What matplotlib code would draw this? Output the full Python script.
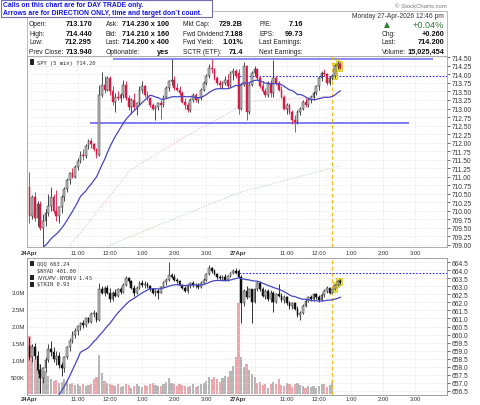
import numpy as np
import pandas as pd
import matplotlib
matplotlib.use("Agg")
import matplotlib.pyplot as plt
from matplotlib.patches import Rectangle

plt.rcParams["font.family"] = ["Liberation Sans", "DejaVu Sans"]

W, H = 480, 406

# SPY 5 min bars: 24-Apr (bars 0-77) then 27-Apr (bars 78-116)
spy_open = [
    710.70, 709.85, 710.40, 709.80, 710.20, 709.50, 709.70, 709.95, 710.15, 710.40,
    710.00, 709.85, 710.10, 710.40, 710.65, 710.90, 711.10, 711.00, 711.30, 711.45,
    711.65, 711.60, 711.90, 712.05, 711.95, 711.80, 711.65, 713.40, 713.70, 713.55,
    713.90, 713.50, 713.20, 713.35, 713.30, 713.40, 713.70, 713.30, 713.05, 713.25,
    713.05, 713.15, 713.55, 713.65, 713.40, 713.30, 713.10, 713.00, 713.05, 713.15,
    713.10, 713.35, 713.60, 713.80, 713.85, 713.60, 713.55, 713.45, 713.20, 713.10,
    712.95, 713.25, 713.40, 713.25, 713.30, 713.55, 713.75, 713.95, 714.20, 714.15,
    713.90, 713.75, 713.70, 713.75, 713.85, 713.65, 714.05, 714.10,
    714.05, 713.00, 713.70, 714.25, 712.90, 713.70, 714.05, 714.15, 713.90, 713.65,
    713.50, 713.40, 713.75, 713.45, 713.90, 713.75, 713.55, 713.35, 713.00, 713.10,
    712.90, 712.65, 712.60, 712.90, 713.00, 713.20, 713.10, 713.25, 713.35, 713.45,
    713.65, 713.90, 714.05, 714.00, 713.75, 713.90, 713.95, 714.25, 714.30,
]
spy_high = [
    711.13, 710.45, 710.55, 710.30, 710.30, 709.90, 710.05, 710.50, 710.70, 710.50,
    710.60, 710.15, 710.45, 710.70, 710.95, 711.15, 711.25, 711.35, 711.55, 711.75,
    711.80, 711.95, 712.10, 712.15, 712.00, 711.85, 713.70, 714.06, 713.95, 713.95,
    713.95, 713.65, 713.45, 713.50, 713.45, 713.85, 713.80, 713.40, 713.30, 713.45,
    713.20, 713.65, 713.80, 713.70, 713.50, 713.35, 713.15, 713.10, 713.20, 713.25,
    713.40, 713.65, 713.85, 714.44, 713.95, 713.75, 713.65, 713.50, 713.30, 713.15,
    713.30, 713.45, 713.45, 713.35, 713.60, 713.80, 714.00, 714.30, 714.44, 714.20,
    713.95, 713.85, 713.80, 713.95, 714.00, 714.10, 714.20, 714.15,
    714.15, 713.75, 714.35, 714.28, 713.75, 714.10, 714.25, 714.20, 713.95, 713.80,
    713.60, 713.80, 713.85, 714.42, 713.95, 713.80, 713.65, 713.40, 713.15, 713.15,
    712.95, 712.80, 712.95, 713.05, 713.25, 713.30, 713.30, 713.40, 713.50, 713.70,
    713.95, 714.10, 714.15, 714.05, 713.95, 714.00, 714.30, 714.40, 714.35,
]
spy_low = [
    709.65, 709.75, 709.70, 709.55, 709.45, 708.95, 709.55, 709.85, 710.00, 709.95,
    709.70, 709.65, 709.95, 710.30, 710.55, 710.80, 710.95, 710.95, 711.20, 711.40,
    711.50, 711.55, 711.80, 711.85, 711.75, 711.55, 711.60, 713.35, 713.45, 713.50,
    713.40, 713.10, 712.90, 713.25, 713.20, 713.30, 713.25, 712.95, 712.85, 712.95,
    712.80, 713.10, 713.45, 713.35, 713.25, 713.05, 712.95, 712.65, 712.95, 712.70,
    713.05, 713.30, 713.50, 713.70, 713.55, 713.50, 713.40, 713.15, 713.00, 712.90,
    712.90, 713.20, 713.20, 713.15, 713.25, 713.50, 713.70, 713.90, 714.05, 713.85,
    713.70, 713.60, 713.60, 713.70, 713.60, 713.60, 713.85, 713.90,
    712.85, 712.95, 713.65, 712.65, 712.85, 713.65, 713.95, 713.85, 713.60, 713.45,
    713.35, 713.35, 713.35, 713.35, 713.70, 713.50, 713.30, 712.95, 712.85, 712.85,
    712.55, 712.30, 712.55, 712.80, 712.95, 713.05, 713.05, 713.15, 713.25, 713.40,
    713.55, 713.80, 713.95, 713.70, 713.70, 713.85, 713.90, 714.15, 714.15,
]
spy_close = [
    709.85, 710.40, 709.80, 710.20, 709.50, 709.70, 709.95, 710.15, 710.40, 710.00,
    709.85, 710.10, 710.40, 710.65, 710.90, 711.10, 711.00, 711.30, 711.45, 711.65,
    711.60, 711.90, 712.05, 711.95, 711.80, 711.65, 713.40, 713.70, 713.55, 713.90,
    713.50, 713.20, 713.35, 713.30, 713.40, 713.70, 713.30, 713.05, 713.25, 713.05,
    713.15, 713.55, 713.65, 713.40, 713.30, 713.10, 713.00, 713.05, 713.15, 713.10,
    713.35, 713.60, 713.80, 713.85, 713.60, 713.55, 713.45, 713.20, 713.10, 712.95,
    713.25, 713.40, 713.25, 713.30, 713.55, 713.75, 713.95, 714.20, 714.15, 713.90,
    713.75, 713.70, 713.75, 713.85, 713.65, 714.05, 714.10, 713.94,
    713.00, 713.70, 714.25, 712.90, 713.70, 714.05, 714.15, 713.90, 713.65, 713.50,
    713.40, 713.75, 713.45, 713.90, 713.75, 713.55, 713.35, 713.00, 713.10, 712.90,
    712.65, 712.60, 712.90, 713.00, 713.20, 713.10, 713.25, 713.35, 713.45, 713.65,
    713.90, 714.05, 714.00, 713.75, 713.90, 713.95, 714.25, 714.30, 714.20,
]
# last 19 closes of 23-Apr, only used to seed the 20 bar average
spy_prior_close = [708.30, 708.45, 708.35, 708.50, 708.40, 708.55, 708.45, 708.40, 708.50, 708.60,
                   708.45, 708.50, 708.55, 708.40, 708.50, 708.45, 708.55, 708.60, 708.50]

# QQQ 5 min bars, same slots
qqq_open = [
    659.30, 658.60, 659.20, 658.70, 657.80, 657.30, 657.90, 658.40, 659.10, 658.90,
    658.50, 658.70, 658.10, 657.90, 658.60, 659.20, 659.60, 660.00, 660.20, 660.50,
    660.70, 660.60, 661.00, 660.80, 661.30, 661.35, 660.90, 662.80, 662.60, 662.90,
    662.60, 662.20, 662.60, 662.40, 662.80, 662.65, 663.10, 663.50, 663.30, 662.90,
    662.60, 662.90, 663.20, 663.05, 663.15, 663.00, 662.80, 662.55, 662.70, 662.60,
    662.95, 663.25, 663.40, 663.70, 663.60, 663.40, 663.30, 663.10, 662.90, 662.70,
    663.00, 663.20, 663.05, 663.10, 662.95, 663.20, 663.40, 663.75, 664.10, 663.95,
    663.75, 663.55, 663.50, 663.60, 663.40, 663.65, 663.85, 663.95,
    663.95, 663.60, 661.95, 662.70, 662.35, 662.80, 662.00, 662.80, 663.20, 662.80,
    662.40, 662.70, 662.20, 662.60, 662.05, 662.50, 662.40, 662.15, 662.35, 661.95,
    661.75, 661.95, 661.60, 661.20, 661.35, 661.80, 662.10, 662.30, 662.20, 662.50,
    662.30, 662.15, 662.45, 662.70, 662.90, 662.60, 662.80, 663.05, 663.30,
]
qqq_high = [
    659.85, 659.40, 659.50, 659.00, 658.20, 658.00, 658.60, 659.40, 659.60, 659.20,
    659.00, 658.90, 658.30, 658.70, 659.30, 659.80, 660.20, 660.40, 660.60, 660.80,
    660.90, 661.10, 661.10, 661.40, 661.50, 661.40, 663.20, 663.00, 663.00, 663.10,
    662.90, 662.70, 662.80, 662.90, 662.95, 663.20, 663.65, 663.60, 663.40, 663.10,
    663.00, 663.30, 663.40, 663.30, 663.25, 663.10, 662.90, 662.80, 662.85, 663.00,
    663.30, 663.50, 664.50, 663.85, 663.75, 663.50, 663.40, 663.15, 663.00, 663.05,
    663.25, 663.30, 663.20, 663.20, 663.30, 663.50, 663.80, 664.30, 664.20, 664.05,
    663.85, 663.70, 663.70, 663.75, 663.70, 663.90, 664.05, 664.10,
    664.05, 663.70, 662.80, 663.00, 662.90, 662.85, 662.90, 663.35, 663.30, 662.95,
    662.80, 662.85, 662.75, 662.70, 662.60, 663.15, 662.55, 662.45, 662.40, 662.10,
    662.05, 662.00, 661.80, 661.45, 661.90, 662.20, 662.40, 662.45, 662.60, 662.55,
    662.45, 662.55, 662.80, 663.00, 662.95, 662.85, 663.15, 663.40, 663.45,
]
qqq_low = [
    658.40, 658.30, 658.50, 657.60, 656.40, 657.00, 657.70, 658.30, 658.70, 658.30,
    658.10, 657.90, 657.40, 657.70, 658.50, 659.00, 659.50, 659.80, 660.00, 660.30,
    660.40, 660.50, 660.70, 660.70, 661.10, 660.80, 660.85, 662.50, 662.40, 662.50,
    662.00, 662.10, 662.30, 662.30, 662.50, 662.60, 663.00, 663.20, 662.80, 662.40,
    662.50, 662.80, 662.95, 662.90, 662.90, 662.70, 662.50, 662.40, 662.20, 662.55,
    662.90, 663.10, 663.30, 663.50, 663.35, 663.20, 663.05, 662.85, 662.65, 662.60,
    662.90, 662.95, 662.90, 662.85, 662.90, 663.15, 663.35, 663.70, 663.85, 663.70,
    663.45, 663.40, 663.35, 663.30, 663.35, 663.55, 663.75, 663.75,
    663.50, 660.70, 661.80, 662.20, 662.30, 660.70, 661.95, 662.70, 662.70, 662.30,
    662.20, 662.10, 662.00, 661.40, 661.95, 662.30, 662.05, 661.95, 661.85, 661.60,
    661.60, 661.50, 661.10, 660.90, 661.30, 661.70, 662.00, 662.10, 662.10, 662.20,
    662.05, 662.10, 662.35, 662.60, 662.50, 662.55, 662.75, 663.00, 663.15,
]
qqq_close = [
    658.60, 659.20, 658.70, 657.80, 657.30, 657.90, 658.40, 659.10, 658.90, 658.50,
    658.70, 658.10, 657.90, 658.60, 659.20, 659.60, 660.00, 660.20, 660.50, 660.70,
    660.60, 661.00, 660.80, 661.30, 661.35, 660.90, 662.80, 662.60, 662.90, 662.60,
    662.20, 662.60, 662.40, 662.80, 662.65, 663.10, 663.50, 663.30, 662.90, 662.60,
    662.90, 663.20, 663.05, 663.15, 663.00, 662.80, 662.55, 662.70, 662.60, 662.95,
    663.25, 663.40, 663.70, 663.60, 663.40, 663.30, 663.10, 662.90, 662.70, 663.00,
    663.20, 663.05, 663.10, 662.95, 663.20, 663.40, 663.75, 664.10, 663.95, 663.75,
    663.55, 663.50, 663.60, 663.40, 663.65, 663.85, 663.95, 663.82,
    663.60, 661.95, 662.70, 662.35, 662.80, 662.00, 662.80, 663.20, 662.80, 662.40,
    662.70, 662.20, 662.60, 662.05, 662.50, 662.40, 662.15, 662.35, 661.95, 661.75,
    661.95, 661.60, 661.20, 661.35, 661.80, 662.10, 662.30, 662.20, 662.50, 662.30,
    662.15, 662.45, 662.70, 662.90, 662.60, 662.80, 663.05, 663.30, 663.24,
]
qqq_prior_close = [652.40, 652.60, 652.50, 652.80, 652.70, 652.90, 652.60, 652.80, 653.00, 652.70,
                   652.90, 652.80, 653.10, 652.90, 653.00, 652.80, 653.10, 653.20, 653.00]

# volume in millions, up to the call line
volume_m = [
    1.73, 1.45, 1.05, 0.75, 0.90, 0.60, 0.70, 0.55, 0.45, 0.40,
    0.42, 0.35, 0.38, 0.45, 0.40, 0.30, 0.35, 0.28, 0.30, 0.26,
    0.30, 0.25, 0.28, 0.32, 0.45, 0.50, 1.17, 0.62, 0.40, 0.35,
    0.30, 0.28, 0.25, 0.30, 0.22, 0.26, 0.32, 0.28, 0.20, 0.24,
    0.30, 0.26, 0.22, 0.28, 0.25, 0.30, 0.35, 0.28, 0.24, 0.26,
    0.30, 0.38, 0.48, 0.35, 0.30, 0.26, 0.32, 0.28, 0.24, 0.22,
    0.25, 0.30, 0.22, 0.26, 0.30, 0.35, 0.40, 0.50, 0.45, 0.52,
    0.45, 0.38, 0.48, 0.55, 0.52, 0.70, 0.85, 1.10,
    2.68, 1.10, 0.80, 0.90, 0.72, 0.60, 0.50, 0.33, 0.38, 0.28,
    0.32, 0.20, 0.30, 0.36, 0.30, 0.45, 0.28, 0.25, 0.35, 0.30,
    0.22, 0.30, 0.33, 0.28, 0.25, 0.20, 0.26, 0.22, 0.24, 0.18,
    0.25, 0.30, 0.32, 0.22, 0.28, 0.36,
]

# longer averages at a few bars
spy_ma_mid_x = [15, 37.5, 55.5, 76, 79, 116]
spy_ma_mid_y = [708.97, 711.18, 712.06, 712.94, 713.19, 713.38]
spy_ma_long_x = [29, 38.5, 77, 79, 116]
spy_ma_long_y = [708.95, 709.27, 710.50, 710.55, 711.32]

resist_level, resist_span = 714.45, (31, 150.5)
support_level, support_span = 712.58, (22.5, 141.5)
spy_prev_close = 713.94
qqq_prev_close = 663.82
call_bar = 113
highlight_bars = [114, 115, 116]

tick_pos = [0, 18, 30, 42, 54, 66, 78, 96, 108, 120, 132, 144]
tick_lab = ["24Apr", "11:00", "12:00", "1:00", "2:00", "3:00",
            "27Apr", "11:00", "12:00", "1:00", "2:00", "3:00"]
grid_pos = [6, 18, 30, 42, 54, 66, 78, 84, 96, 108, 120, 132, 144]

hdr_labels = [["Open:", "High:", "Low:", "Prev Close:"],
              ["Ask:", "Bid:", "Last:", "Optionable:"],
              ["Mkt Cap:", "Fwd Dividend:", "Fwd Yield:", "SCTR (ETF):"],
              ["P/E:", "EPS:", "Last Earnings:", "Next Earnings:"]]
hdr_values = [["713.170", "714.440", "712.295", "713.940"],
              ["714.230 x 100", "714.210 x 160", "714.200 x 400", "yes"],
              ["729.2B", "7.188", "1.01%", "71.4"],
              ["7.16", "99.73", "", ""]]
quote_labels = ["Chg:", "Last:", "Volume:"]
quote_values = ["+0.260", "714.200", "15,025,454"]

XMIN, XMAX = -0.93, 155.8
GRID = dict(color="#d9d9d9", lw=0.5, ls=(0, (1, 1.5)))


def fy(y):
    return 1 - y / H


def candles(ax, o, h, l, c, up_fc, up_ec, dn_fc, dn_ec, min_body):
    o, h, l, c = map(np.asarray, (o, h, l, c))
    x = np.arange(len(c))
    up = c >= o
    ec = np.where(up, up_ec, dn_ec)
    fc = np.where(up, up_fc, dn_fc)
    ax.vlines(x, l, h, colors=ec, linewidth=0.6, zorder=3)
    ax.bar(x, np.maximum(np.abs(c - o), min_body), bottom=np.minimum(o, c), width=0.64,
           color=fc, edgecolor=ec, linewidth=0.35, zorder=3.1)


def highlight(ax, h, l, pad):
    hb = np.array(highlight_bars)
    hh = np.asarray(h)[hb]
    ll = np.asarray(l)[hb]
    ax.bar(hb, hh - ll + 2 * pad, bottom=ll - pad, width=1.25, color="#f3e53c",
           edgecolor="#c9b400", linewidth=0.4, zorder=2.8)


def style_axis(ax):
    for s in ax.spines.values():
        s.set_color("#a0a0a0")
        s.set_linewidth(0.6)
    ax.set_xlim(XMIN, XMAX)
    for g in grid_pos:
        ax.axvline(g, zorder=0.5, **GRID)
    ax.set_xticks(tick_pos)
    ax.set_xticklabels(tick_lab)
    ax.tick_params(axis="x", length=0, labelsize=4.2, colors="#333333")
    for lab in ax.get_xticklabels():
        if "Apr" in lab.get_text():
            lab.set_fontweight("bold")


fig = plt.figure(figsize=(W / 100, H / 100), dpi=100)
fig.patch.set_facecolor("white")

# ---------------- top panel: SPY ----------------
ax1 = fig.add_axes([27 / W, fy(248), 420 / W, 191 / H])
style_axis(ax1)
ax1.tick_params(axis="x", pad=2)
ax1.set_ylim(708.94, 714.54)
ax1.yaxis.tick_right()
ax1.set_yticks(np.arange(709.0, 714.51, 0.25))
ax1.yaxis.set_major_formatter(matplotlib.ticker.FormatStrFormatter("%.2f"))
ax1.tick_params(axis="y", length=2, width=0.5, pad=1.5, labelsize=4.8, colors="#333333")
ax1.grid(axis="y", **GRID)
ax1.set_axisbelow(True)

xb = np.arange(len(spy_close))
spy_ma20 = pd.Series(spy_prior_close + spy_close).rolling(20).mean().to_numpy()[len(spy_prior_close):]
ax1.plot(spy_ma_long_x, spy_ma_long_y, color="#b9c9b9", lw=0.7, ls=(0, (1, 1.5)), zorder=1.5)
ax1.plot(spy_ma_mid_x, spy_ma_mid_y, color="#efb3bd", lw=0.7, ls=(0, (1, 1.5)), zorder=1.5)
ax1.hlines(resist_level, *resist_span, colors="#6a6af5", lw=1.1, zorder=2)
ax1.hlines(support_level, *support_span, colors="#5a5af0", lw=1.1, zorder=2)
ax1.hlines(spy_prev_close, 78, XMAX, colors="#2b2bff", lw=0.8, ls=(0, (1.5, 1.5)), zorder=2)
ax1.axvline(call_bar, color="#f2bd1d", lw=0.9, ls=(0, (3, 2)), zorder=2.5)
highlight(ax1, spy_high, spy_low, 0.04)
candles(ax1, spy_open, spy_high, spy_low, spy_close,
        "#c2c2c2", "#2a2a2a", "#d81b46", "#d81b46", 0.012)
ax1.plot(xb, spy_ma20, color="#4646c3", lw=0.9, zorder=4)

# ---------------- lower panel: volume + QQQ ----------------
ax2 = fig.add_axes([27 / W, fy(396), 420 / W, 137 / H])
style_axis(ax2)
ax2.tick_params(axis="x", pad=1)
ax2.set_ylim(-0.015, 4.01)
ax2.set_yticks([0.5, 1.0, 1.5, 2.0, 2.5, 3.0])
ax2.set_yticklabels(["500K", "1.0M", "1.5M", "2.0M", "2.5M", "3.0M"])
ax2.tick_params(axis="y", length=0, pad=1.5, labelsize=4.3, colors="#333333")
vb = np.arange(len(volume_m))
vcol = np.where(np.asarray(spy_close[:len(volume_m)]) < np.asarray(spy_open[:len(volume_m)]),
                "#eba7ad", "#b5b5b5")
ax2.bar(vb, volume_m, width=0.8, color=vcol, zorder=1)
ax2.axvline(call_bar, color="#f2bd1d", lw=0.9, ls=(0, (3, 2)), zorder=2.5)

ax3 = ax2.twinx()
ax3.set_ylim(656.25, 664.75)
ax3.set_yticks(np.arange(656.5, 664.51, 0.5))
ax3.yaxis.set_major_formatter(matplotlib.ticker.FormatStrFormatter("%.1f"))
ax3.tick_params(axis="y", length=2, width=0.5, pad=1.5, labelsize=4.8, colors="#333333")
for s in ax3.spines.values():
    s.set_color("#a0a0a0")
    s.set_linewidth(0.6)
ax3.grid(axis="y", **GRID)
ax3.hlines(qqq_prev_close, 78, XMAX, colors="#2b2bff", lw=0.8, ls=(0, (1.5, 1.5)), zorder=2)
qqq_ma20 = pd.Series(qqq_prior_close + qqq_close).rolling(20).mean().to_numpy()[len(qqq_prior_close):]
highlight(ax3, qqq_high, qqq_low, 0.08)
candles(ax3, qqq_open, qqq_high, qqq_low, qqq_close,
        "#c2c2c2", "#2a2a2a", "#111111", "#111111", 0.025)
ax3.plot(np.arange(len(qqq_close)), qqq_ma20, color="#4646c3", lw=0.9, zorder=4)
ax3.set_xlim(XMIN, XMAX)

# ---------------- panel legends ----------------
fig.add_artist(Rectangle((29.5 / W, fy(66)), 4 / W, 6 / H, transform=fig.transFigure,
                         fc="#222222", ec="none"))
fig.text(37 / W, fy(63), "SPY (5 min) 714.20", family="DejaVu Sans Mono", fontsize=4.0,
         va="center", color="#333333")
leg_y = [264, 271, 278, 285]
leg_txt = ["QQQ 663.24", "$NYAD 401.00", "$NYUPV:$NYDNV 1.45", "$TRIN 0.93"]
for y, t in zip(leg_y, leg_txt):
    if t.startswith("$NYAD"):
        fig.add_artist(Rectangle((29.5 / W, fy(y + 0.4)), 4 / W, 0.9 / H,
                                 transform=fig.transFigure, fc="#222222", ec="none"))
    else:
        fig.add_artist(Rectangle((29.5 / W, fy(y + 2.5)), 4 / W, 5 / H,
                                 transform=fig.transFigure, fc="#222222", ec="none"))
    fig.text(37 / W, fy(y), t, family="DejaVu Sans Mono", fontsize=3.9, va="center",
             color="#333333")

# ---------------- header ----------------
fig.add_artist(Rectangle((27 / W, fy(57)), 420 / W, 45 / H, transform=fig.transFigure,
                         fill=False, ec="#b0b0b0", lw=0.6))
row_y = [24, 34, 43, 52]
lab_x = [29, 106, 183, 259]
val_x = [92, 169, 243, 303]
for ci in range(4):
    for ri in range(4):
        fig.text(lab_x[ci] / W, fy(row_y[ri]), hdr_labels[ci][ri], fontsize=4.8,
                 va="center", color="#222222")
        fig.text(val_x[ci] / W, fy(row_y[ri]), hdr_values[ci][ri], fontsize=5.3,
                 fontweight="bold", va="center", ha="right", color="#111111")
for ri, (lab, val) in enumerate(zip(quote_labels, quote_values)):
    fig.text(382 / W, fy(row_y[ri + 1]), lab, fontsize=4.8, va="center", color="#222222")
    fig.text(444 / W, fy(row_y[ri + 1]), val, fontsize=5.3, fontweight="bold",
             va="center", ha="right", color="#111111")
fig.text(444 / W, fy(16), "Monday 27-Apr-2026 12:46 pm", fontsize=4.8, va="center",
         ha="right", color="#333333")
fig.text(387 / W, fy(25), "\u25B2", family="DejaVu Sans", fontsize=5.5, va="center",
         ha="center", color="#2e7d32")
fig.text(444 / W, fy(25), "+0.04%", fontsize=6.6, va="center", ha="right", color="#2e7d32")
fig.text(447 / W, fy(6), "\u00A9 StockCharts.com", fontsize=4.3, va="center", ha="right",
         color="#777777")

# call disclaimer box
fig.add_artist(Rectangle((0.5 / W, fy(17.5)), 211 / W, 17 / H, transform=fig.transFigure,
                         fc="white", ec="#7070b0", lw=0.8, zorder=10))
fig.text(3 / W, fy(5.5), "Calls on this chart are for DAY TRADE only.", fontsize=4.9,
         fontweight="bold", color="#1414e6", va="center", zorder=11)
fig.text(3 / W, fy(13.2), "Arrows are for DIRECTION ONLY, time and target don`t count.",
         fontsize=4.9, fontweight="bold", color="#1414e6", va="center", zorder=11)

fig.savefig("out.png", dpi=100)
